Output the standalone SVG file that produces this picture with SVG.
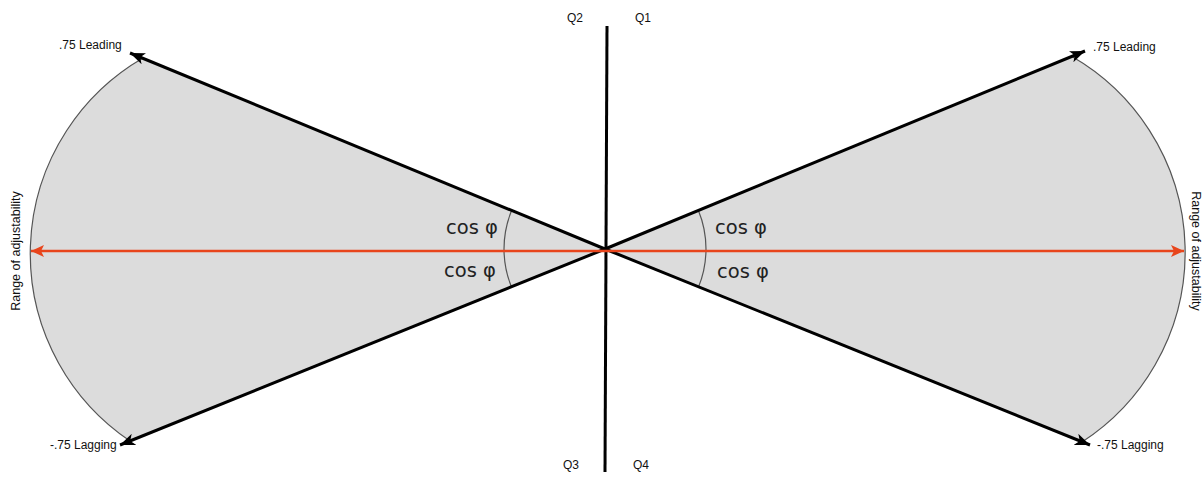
<svg xmlns="http://www.w3.org/2000/svg" width="1202" height="477" viewBox="0 0 1202 477">
  <style>
    .wedge { fill: #dcdcdc; stroke: none; }
    .arc { fill: none; stroke: #555; stroke-width: 1.2; }
    .axis { stroke: #000; stroke-width: 3; fill: none; }
    .ray { stroke: #000; stroke-width: 3; fill: none; marker-end: url(#blackArrow); }
    .red { stroke: #e8451c; stroke-width: 2.5; fill: none; marker-start: url(#redArrowStart); marker-end: url(#redArrow); }
    .lbl { font-family: "Liberation Sans", Arial, sans-serif; font-size: 12px; fill: #111; }
    .side { font-family: "Liberation Sans", Arial, sans-serif; font-size: 12.5px; fill: #111; }
    .cos { font-family: "DejaVu Sans", sans-serif; font-size: 19.5px; fill: #222; }
  </style>
  <defs>
    <marker id="blackArrow" markerUnits="userSpaceOnUse" markerWidth="16" markerHeight="12" refX="15" refY="6" orient="auto">
      <path d="M0,0 L15,6 L0,12 L4,6 Z" fill="#000"/>
    </marker>
    <marker id="redArrow" markerUnits="userSpaceOnUse" markerWidth="14" markerHeight="12" refX="13" refY="6" orient="auto">
      <path d="M0,0 L13,6 L0,12 L3,6 Z" fill="#e8451c"/>
    </marker>
    <marker id="redArrowStart" markerUnits="userSpaceOnUse" markerWidth="14" markerHeight="12" refX="0" refY="6" orient="auto">
      <path d="M13,0 L0,6 L13,12 L10,6 Z" fill="#e8451c"/>
    </marker>
  </defs>

  <g id="left-wedge">
    <path class="wedge" d="M605,249 L143,58 A226,226 0 0,0 130,441 Z"/>
    <path class="arc" d="M143,58 A226,226 0 0,0 130,441"/>
    <path class="arc" d="M511.6,210.5 A101,101 0 0,0 511.4,286.8"/>
    <text class="cos" x="446" y="234">cos φ</text>
    <text class="cos" x="444" y="277">cos φ</text>
  </g>

  <g id="right-wedge">
    <path class="wedge" d="M605,249 L1072,56.5 A226,226 0 0,1 1082,442 Z"/>
    <path class="arc" d="M1072,56.5 A226,226 0 0,1 1082,442"/>
    <path class="arc" d="M698.4,210.5 A101,101 0 0,1 698.6,286.8"/>
    <text class="cos" x="715" y="234">cos φ</text>
    <text class="cos" x="717" y="278">cos φ</text>
  </g>

  <g id="connectors">
    <line class="axis" x1="607" y1="26" x2="605" y2="472"/>
    <line class="ray" x1="605" y1="249" x2="130" y2="53"/>
    <line class="ray" x1="605" y1="249" x2="120" y2="445"/>
    <line class="ray" x1="605" y1="249" x2="1085" y2="51"/>
    <line class="ray" x1="605" y1="249" x2="1090" y2="445"/>
    <line class="red" x1="31" y1="251" x2="1184" y2="251"/>
  </g>

  <g id="labels">
    <text class="lbl" x="59" y="49">.75 Leading</text>
    <text class="lbl" x="1093" y="51">.75 Leading</text>
    <text class="lbl" x="50" y="449">-.75 Lagging</text>
    <text class="lbl" x="1097" y="449">-.75 Lagging</text>
    <text class="lbl" x="567" y="22">Q2</text>
    <text class="lbl" x="635" y="22">Q1</text>
    <text class="lbl" x="563" y="469">Q3</text>
    <text class="lbl" x="633" y="469">Q4</text>
    <text class="side" text-anchor="middle" transform="translate(20,251) rotate(-90)">Range of adjustability</text>
    <text class="side" text-anchor="middle" transform="translate(1192,251) rotate(90)">Range of adjustability</text>
  </g>
</svg>
